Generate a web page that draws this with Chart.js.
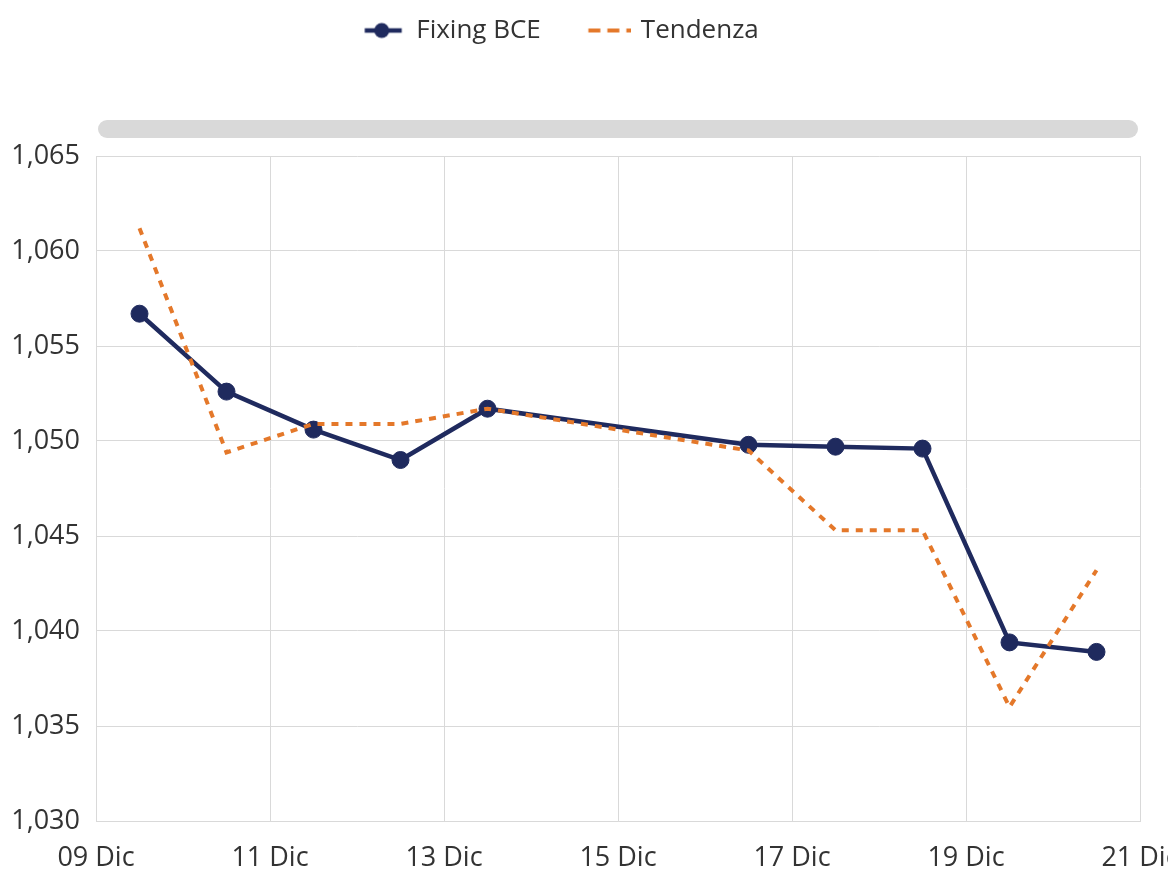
<!DOCTYPE html>
<html lang="it">
<head>
<meta charset="utf-8">
<title>Fixing BCE</title>
<script src="https://cdn.jsdelivr.net/npm/chart.js@4.4.1/dist/chart.umd.min.js"></script>
<style>
  html, body { margin: 0; padding: 0; background: #ffffff; }
  #wrap { width: 1168px; height: 870px; overflow: hidden; position: relative; }
  canvas { display: block; }
</style>
</head>
<body>
<div id="wrap"><canvas id="chart" width="1168" height="870"></canvas></div>
<script>
// Daily ECB reference rates (fixing) and trend line, December
const fixingDates = ['2024-12-09', '2024-12-10', '2024-12-11', '2024-12-12', '2024-12-13',
                     '2024-12-16', '2024-12-17', '2024-12-18', '2024-12-19', '2024-12-20'];
const fixingValues = [1.0567, 1.0526, 1.0506, 1.0490, 1.0517, 1.0498, 1.0497, 1.0496, 1.0394, 1.0389];
const trendValues  = [1.0612, 1.0494, 1.0509, 1.0509, 1.0517, 1.0495, 1.0453, 1.0453, 1.0360, 1.0432];
const seriesNames = ['Fixing BCE', 'Tendenza'];
const monthShort = 'Dic';
const dayRange = [9, 21];
const dayStep = 2;
const rateRange = [1.030, 1.065];
const rateStep = 0.005;

const NAVY = '#1f2a5e';
const ORANGE = '#e4782a';
const GRID = '#d9d9d9';
const TEXT = '#333333';
const FONT = "'Open Sans', 'Noto Sans', sans-serif";

// each fixing is placed at midday of its date
const dayPosition = iso => {
  const d = new Date(iso + 'T12:00:00Z');
  return d.getUTCDate() + d.getUTCHours() / 24;
};
const pointsOf = values => fixingDates.map((iso, i) => ({ x: dayPosition(iso), y: values[i] }));

// legend markers drawn onto small canvases
const ICON_BOX = 54;
function legendIcon(kind) {
  const c = document.createElement('canvas');
  c.height = 20;
  if (kind === 'fixing') {
    c.width = ICON_BOX;
    const g = c.getContext('2d');
    g.lineWidth = 4.5;
    g.strokeStyle = NAVY;
    g.beginPath(); g.moveTo(15.5, 10); g.lineTo(52.5, 10); g.stroke();
    g.fillStyle = NAVY;
    g.beginPath(); g.arc(32.5, 10, 7.5, 0, Math.PI * 2); g.fill();
  } else {
    c.width = 60;
    const g = c.getContext('2d');
    g.lineWidth = 4;
    g.strokeStyle = ORANGE;
    g.setLineDash([12, 7]);
    g.beginPath(); g.moveTo(17.5, 10); g.lineTo(60, 10); g.stroke();
  }
  return c;
}
const legendIcons = [legendIcon('fixing'), legendIcon('trend')];

// rounded grey band above the plot area
const topBand = {
  id: 'topBand',
  beforeDraw(chart) {
    const { ctx, chartArea: a } = chart;
    const h = 18, y = a.top - 36, x0 = a.left + 2, x1 = a.right - 2;
    ctx.save();
    ctx.fillStyle = '#d9d9d9';
    ctx.beginPath();
    ctx.roundRect(x0, y, x1 - x0, h, h / 2);
    ctx.fill();
    ctx.restore();
  }
};

const fmtRate = v => (Math.round(v * 1000) / 1000).toFixed(3).replace('.', ',');
const fmtDay = v => String(Math.round(v)).padStart(2, '0') + ' ' + monthShort;

const PAD_LEFT = -32;
const PLOT_LEFT = 96;

new Chart(document.getElementById('chart'), {
  type: 'line',
  data: {
    datasets: [
      {
        label: seriesNames[0],
        data: pointsOf(fixingValues),
        borderColor: NAVY,
        backgroundColor: NAVY,
        borderWidth: 4.5,
        pointRadius: 8.5,
        pointBorderWidth: 1,
        pointBackgroundColor: NAVY,
        pointBorderColor: NAVY,
        tension: 0,
        order: 1
      },
      {
        label: seriesNames[1],
        data: pointsOf(trendValues),
        borderColor: ORANGE,
        backgroundColor: ORANGE,
        borderWidth: 4,
        borderDash: [7, 7],
        pointRadius: 0,
        tension: 0,
        order: 0
      }
    ]
  },
  options: {
    responsive: false,
    animation: false,
    layout: { autoPadding: false, padding: { left: PAD_LEFT, right: 28, top: -15.5, bottom: 0 } },
    plugins: {
      tooltip: { enabled: false },
      legend: {
        position: 'top',
        labels: {
          usePointStyle: true,
          pointStyleWidth: ICON_BOX,
          padding: 33,
          color: TEXT,
          font: { family: FONT, size: 26 },
          generateLabels: chart => chart.data.datasets.map((ds, i) => ({
            text: ds.label,
            pointStyle: legendIcons[i],
            datasetIndex: i,
            hidden: false,
            fontColor: TEXT,
            lineWidth: 0,
            strokeStyle: 'transparent',
            fillStyle: 'transparent'
          }))
        }
      },
      // empty spacer between legend and plot area
      title: {
        display: true,
        text: ' ',
        weight: 500,
        font: { size: 10 },
        padding: { top: 45, bottom: 45.5 }
      }
    },
    scales: {
      x: {
        type: 'linear',
        min: dayRange[0],
        max: dayRange[1],
        afterFit: s => { s.height = 49; s.paddingLeft = 0; s.paddingRight = 0; },
        grid: { color: GRID, lineWidth: 1, drawTicks: false },
        border: { color: GRID, width: 1 },
        ticks: {
          stepSize: dayStep,
          padding: 21,
          maxRotation: 0,
          autoSkip: false,
          color: TEXT,
          font: { family: FONT, size: 27 },
          callback: v => fmtDay(v)
        }
      },
      y: {
        min: rateRange[0],
        max: rateRange[1],
        afterFit: s => { s.width = PLOT_LEFT - PAD_LEFT; s.paddingTop = 0; s.paddingBottom = 0; },
        grid: { color: GRID, lineWidth: 1, drawTicks: false },
        border: { color: GRID, width: 1 },
        ticks: {
          stepSize: rateStep,
          padding: 16,
          color: TEXT,
          font: { family: FONT, size: 27 },
          callback: v => fmtRate(v)
        }
      }
    }
  },
  plugins: [topBand]
});
</script>
</body>
</html>
